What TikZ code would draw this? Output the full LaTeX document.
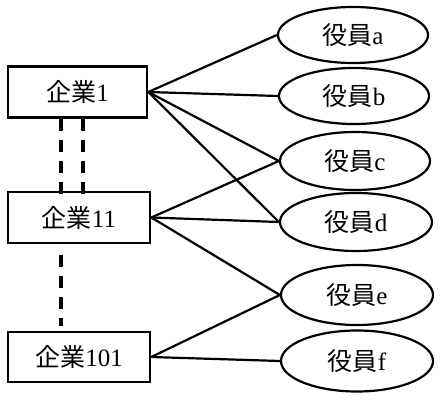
\documentclass[tikz,border=0pt]{standalone}
\usepackage{fontspec}
\setmainfont{Liberation Serif}
\newfontfamily\cjk{Noto Sans CJK JP}
\usetikzlibrary{shapes.geometric}
\tikzset{
  firm/.style={draw, line width=2.6pt, rectangle, minimum height=51pt, inner sep=0pt, font=\fontsize{25}{27}\selectfont},
  officer/.style={draw, line width=2.2pt, ellipse, inner sep=0pt, minimum width=150pt, font=\fontsize{25}{27}\selectfont},
  link/.style={line width=2.2pt},
  dashlink/.style={line width=3.4pt, dash pattern=on 12pt off 9pt}
}
\begin{document}
\begin{tikzpicture}[x=1pt,y=-1pt]
\useasboundingbox (0,0) rectangle (442,417);
\node[firm, minimum width=139pt] (c1) at (77.5,92) {{\cjk 企業}1};
\node[firm, minimum width=142pt] (c11) at (79,217.5) {{\cjk 企業}11};
\node[firm, minimum width=142pt, minimum height=50pt] (c101) at (79,357) {{\cjk 企業}101};
\node[officer, minimum height=56pt] (a) at (353,35) {{\cjk 役員}a};
\node[officer, minimum height=56pt] (b) at (354,96) {{\cjk 役員}b};
\node[officer, minimum height=58pt] (c) at (355,161) {{\cjk 役員}c};
\node[officer, minimum height=58pt, minimum width=152pt] (d) at (356,222) {{\cjk 役員}d};
\node[officer, minimum height=60pt, minimum width=152pt] (e) at (357,295) {{\cjk 役員}e};
\node[officer, minimum height=61pt, minimum width=152pt] (f) at (357,361) {{\cjk 役員}f};
\draw[link] (c1.east) -- (a.west);
\draw[link] (c1.east) -- (b.west);
\draw[link] (c1.east) -- (c.west);
\draw[link] (c1.east) -- (d.west);
\draw[link] (c11.east) -- (c.west);
\draw[link] (c11.east) -- (d.west);
\draw[link] (c11.east) -- (e.west);
\draw[link] (c101.east) -- (e.west);
\draw[link] (c101.east) -- (f.west);
\coordinate (p1) at (61,119);
\coordinate (q1) at (61,196);
\coordinate (p2) at (83,119);
\coordinate (q2) at (83,196);
\coordinate (p3) at (61,255);
\coordinate (q3) at (61,326);
\draw[dashlink] (p1) -- (q1);
\draw[dashlink] (p2) -- (q2);
\draw[dashlink] (p3) -- (q3);
\end{tikzpicture}
\end{document}
